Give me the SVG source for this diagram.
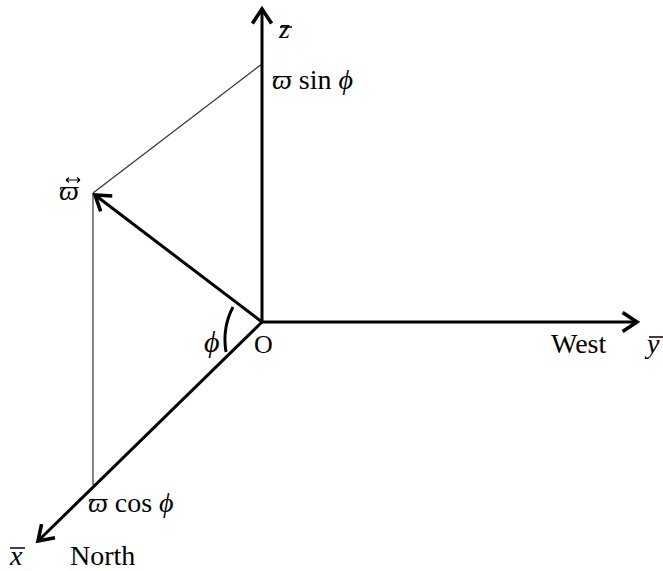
<svg xmlns="http://www.w3.org/2000/svg" width="663" height="571" viewBox="0 0 663 571">
<style>
.axis{stroke:#000;stroke-width:3;fill:none}
.thin{stroke:#333;stroke-width:1.2;fill:none}
.lbl{font-family:"Liberation Serif","Times New Roman",serif;font-size:28px;fill:#000}
.it{font-style:italic}
.bar{stroke:#000;stroke-width:1.5}
</style>
<defs>
<marker id="ah" markerUnits="userSpaceOnUse" markerWidth="24" markerHeight="24" viewBox="-14 -10 16 20" refX="0" refY="0" orient="auto">
<path d="M-12,-8 L0,0 L-12,8" fill="none" stroke="#000" stroke-width="3"/>
</marker>
</defs>
<rect width="663" height="571" fill="#fff"/>
<g id="connectors">
<line class="thin" x1="93" y1="193" x2="262" y2="64"/>
<line class="thin" x1="93" y1="193" x2="93" y2="485"/>
<line class="axis" x1="262" y1="322" x2="262" y2="9" marker-end="url(#ah)"/>
<line class="axis" x1="262" y1="322" x2="637" y2="322" marker-end="url(#ah)"/>
<line class="axis" x1="262" y1="322" x2="38" y2="541" marker-end="url(#ah)"/>
<line class="axis" x1="262" y1="322" x2="95" y2="195" marker-end="url(#ah)"/>
<path class="axis" d="M233,307 Q222,328 226,352" stroke-width="2.5"/>
</g>
<g id="node-z">
<text class="lbl it" x="279" y="38">z</text>
<line class="bar" x1="280" y1="27" x2="292" y2="27"/>
</g>
<g id="node-zsin">
<text class="lbl" x="272" y="89"><tspan class="it">ϖ</tspan> sin <tspan class="it">ϕ</tspan></text>
</g>
<g id="node-omega">
<text class="lbl it" x="59" y="200">ϖ</text>
<path d="M66,180 L80,180 M66,180 l3,-2.5 M66,180 l3,2.5 M80,180 l-3,-2.5 M80,180 l-3,2.5" stroke="#000" stroke-width="1.2" fill="none"/>
</g>
<g id="node-phi">
<text class="lbl it" x="204" y="352" style="font-size:30px">ϕ</text>
</g>
<g id="node-O">
<text class="lbl" x="254" y="353" style="font-size:26px">O</text>
</g>
<g id="node-y">
<text class="lbl" x="551" y="353">West</text>
<text class="lbl it" x="647" y="353">y</text>
<line class="bar" x1="649" y1="337" x2="663" y2="337"/>
</g>
<g id="node-xcos">
<text class="lbl" x="88" y="512"><tspan class="it">ϖ</tspan> cos <tspan class="it">ϕ</tspan></text>
</g>
<g id="node-x">
<text class="lbl it" x="10" y="565">x</text>
<line class="bar" x1="10" y1="548" x2="25" y2="548"/>
<text class="lbl" x="70" y="565">North</text>
</g>
</svg>
